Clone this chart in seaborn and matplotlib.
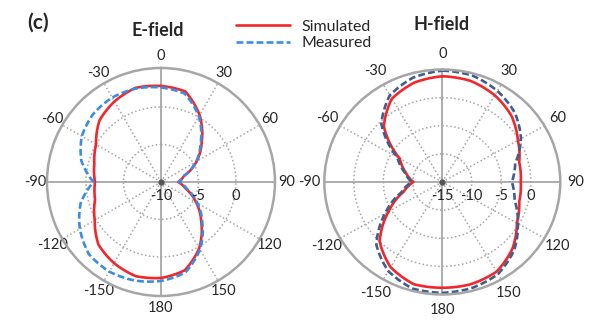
import numpy as np
import pandas as pd
import seaborn as sns
import matplotlib.pyplot as plt
from matplotlib.transforms import offset_copy

# compass angles (deg, clockwise from top), one value every 15 deg
angles_deg = list(range(0, 360, 15))
theta_ticks = list(range(0, 360, 30))
theta_labels = ['0', '30', '60', '90', '120', '150', '180',
                '-150', '-120', '-90', '-60', '-30']

# gain in dB
e_simulated = [2.8, 2.5, 0.3, -2.3, -4.5, -6.8, -7.7, -6.6, -4.6, -2.4, 0.2, 2.2,
               2.8, 3.0, 2.5, 1.8, 0.2, -0.9, -1.2, -0.8, 0.0, 1.6, 2.4, 3.0]
e_measured = [2.6, 2.2, 0.1, -2.5, -4.6, -6.8, -7.6, -6.4, -4.4, -2.2, 0.4, 2.5,
              3.2, 3.6, 3.8, 3.6, 2.5, 1.1, -1.0, 1.0, 2.2, 2.8, 3.0, 2.9]
h_simulated = [3.8, 3.6, 2.8, 1.6, -0.2, -1.5, -1.7, -1.5, -0.4, 1.8, 3.4, 3.8,
               3.8, 3.8, 2.5, 0.0, -4.5, -8.2, -10.1, -8.6, -6.7, -1.0, 2.1, 3.3]
h_measured = [4.8, 4.6, 3.7, 2.4, 0.4, -2.2, -3.2, -2.3, -0.2, 2.2, 3.9, 4.5,
              4.7, 4.6, 3.3, 0.8, -3.8, -7.8, -9.8, -8.4, -6.2, -0.4, 2.8, 4.2]

e_rings = [-5, 0]
e_rlim = (-10, 5.2)
h_rings = [-10, -5, 0]
h_rlim = (-15, 5)

SIM_COLOR = '#f2262b'
E_MEAS_COLOR = '#3a8ee0'
H_MEAS_COLOR = '#3d5f8e'
GRID_COLOR = '#a6a6a6'

sns.set_style('white')
plt.rcParams['font.family'] = ['Lato', 'DejaVu Sans']


def closed_df(values):
    # close the pattern at 360 deg with the 0 deg sample
    theta = np.deg2rad(angles_deg + [360])
    return pd.DataFrame({'theta': theta, 'gain': list(values) + [values[0]]})


def polar_panel(fig, ax, sim, meas, meas_color, rings, rlim, label_pad):
    ax.set_theta_zero_location('N')
    ax.set_theta_direction(-1)

    sns.lineplot(data=closed_df(sim), x='theta', y='gain', ax=ax, sort=False,
                 estimator=None, color=SIM_COLOR, lw=1.9)
    sns.lineplot(data=closed_df(meas), x='theta', y='gain', ax=ax, sort=False,
                 estimator=None, color=meas_color, lw=1.9,
                 linestyle=(0, (2.6, 1.2)))
    # draw segments as arcs in polar space instead of straight chords
    for line in ax.get_lines():
        line.get_path()._interpolation_steps = 16

    ax.set_ylim(*rlim)
    ax.set_xlim(0, 2 * np.pi)
    ax.set_xticks(np.deg2rad(theta_ticks))
    ax.set_xticklabels(theta_labels)
    ax.set_yticks(rings)
    ax.set_yticklabels([])
    ax.set_xlabel('')
    ax.set_ylabel('')
    ax.tick_params(axis='x', pad=label_pad, labelsize=10.5)

    ax.grid(True, color=GRID_COLOR, linestyle=(0, (1, 1.6)), lw=1.1)
    for i, line in enumerate(ax.xaxis.get_gridlines()):
        if i % 3 == 0:
            line.set_linestyle('-')
            line.set_linewidth(1.3)
    ax.spines['polar'].set_color(GRID_COLOR)
    ax.spines['polar'].set_linewidth(1.8)

    # center dot
    ax.plot(0, rlim[0], 'o', ms=3.5, color='#555555', zorder=5)

    # radial labels below the horizontal axis
    trans = offset_copy(ax.transData, fig=fig, x=0, y=-5, units='points')
    for r in [rlim[0]] + rings:
        ax.text(np.pi / 2, r, f'{r:g}', transform=trans, ha='center',
                va='top', fontsize=10.5)


fig = plt.figure(figsize=(6, 3.23), dpi=100)
ax_e = fig.add_axes([0.0783, 0.0836, 0.38, 0.706], projection='polar')
ax_h = fig.add_axes([0.5405, 0.0882, 0.3933, 0.6966], projection='polar')

polar_panel(fig, ax_e, e_simulated, e_measured, E_MEAS_COLOR, e_rings, e_rlim, -2.2)
polar_panel(fig, ax_h, h_simulated, h_measured, H_MEAS_COLOR, h_rings, h_rlim, 0.5)
ax_h.set_aspect('auto')

fig.text(27 / 600, 1 - 23 / 323, '(c)', fontsize=15, fontweight='bold',
         ha='left', va='center')
fig.text(158 / 600, 1 - 30 / 323, 'E-field', fontsize=13, fontweight='bold',
         ha='center', va='center')
fig.text(442 / 600, 1 - 25 / 323, 'H-field', fontsize=13, fontweight='bold',
         ha='center', va='center')

handles = ax_e.get_lines()[:2]
fig.legend(handles, ['Simulated', 'Measured'], loc='center left',
           bbox_to_anchor=(236 / 600, 1 - 35 / 323), frameon=False,
           borderpad=0, borderaxespad=0, handlelength=3.4,
           handletextpad=0.7, labelspacing=0.15, fontsize=11.5)

fig.savefig('out.png', dpi=100, facecolor='white')
